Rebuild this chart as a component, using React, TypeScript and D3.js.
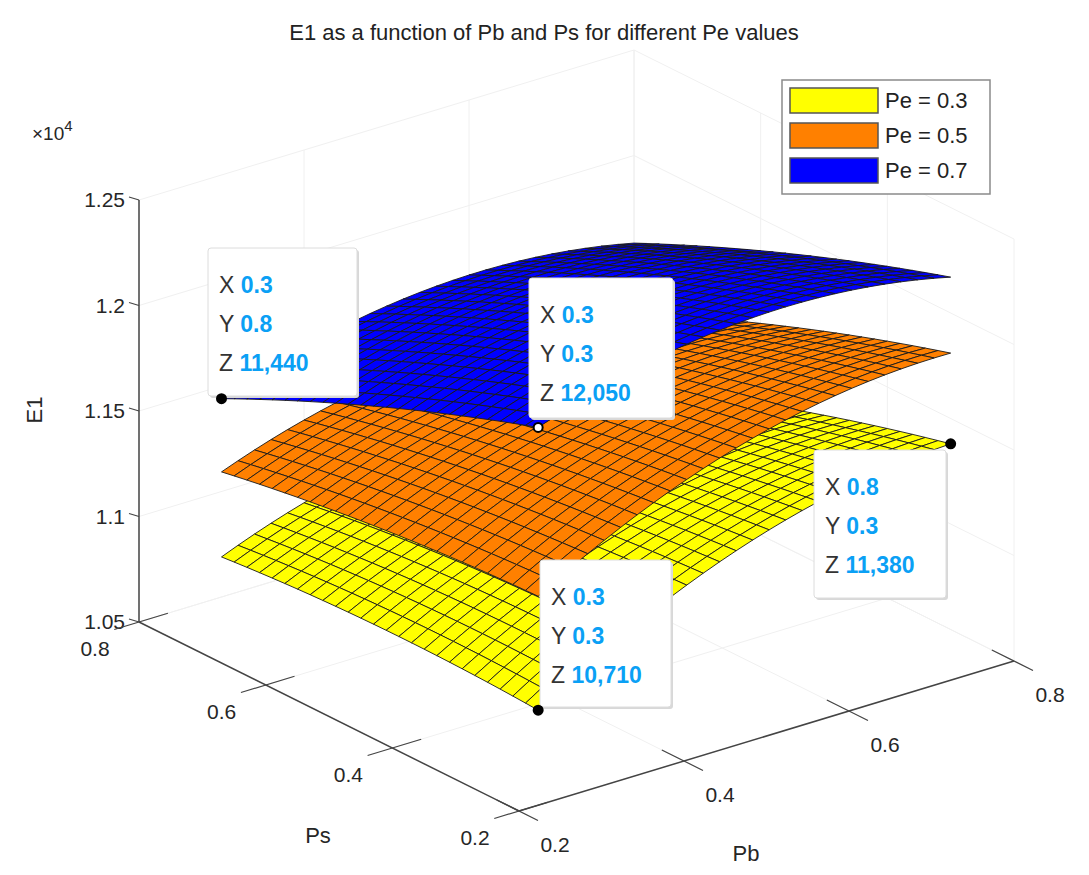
import React from "react";
import * as d3 from "d3";

const knots = [0.3, 0.55, 0.8];
// rows: Ps = 0.3, 0.55, 0.8 ; cols: Pb = 0.3, 0.55, 0.8
const yellowGrid = [
  [10710, 11195, 11380],
  [10730, 11100, 11170],
  [10690, 10945, 10900],
];
const orangeGrid = [
  [11250, 11680, 11810],
  [11200, 11530, 11560],
  [11093, 11321, 11250],
];
const blueGrid = [
  [12050, 12260, 12170],
  [11775, 11991, 11907],
  [11440, 11662, 11585],
];
const surfaces = [
  { label: "Pe = 0.3", grid: yellowGrid, color: "#ffff00" },
  { label: "Pe = 0.5", grid: orangeGrid, color: "#ff8000" },
  { label: "Pe = 0.7", grid: blueGrid, color: "#0000ff" },
];
const pbTicks = [0.2, 0.4, 0.6, 0.8];
const psTicks = [0.2, 0.4, 0.6, 0.8];
const zTicks = [10500, 11000, 11500, 12000, 12500];
const zTickLabels = ["1.05", "1.1", "1.15", "1.2", "1.25"];
const tips = [
  { x: 0.3, y: 0.8, z: 11440, box: [208, 248, 149, 148], hollow: false },
  { x: 0.3, y: 0.3, z: 12050, box: [529, 278, 144, 140], hollow: true },
  { x: 0.8, y: 0.3, z: 11380, box: [814, 450, 132, 148], hollow: false },
  { x: 0.3, y: 0.3, z: 10710, box: [540, 560, 131, 147], hollow: false },
];

const N = 25;

const sPbX = d3.scaleLinear().domain([0.2, 0.8]).range([0, 495]);
const sPbY = d3.scaleLinear().domain([0.2, 0.8]).range([0, -150]);
const sPsX = d3.scaleLinear().domain([0.2, 0.8]).range([0, -380]);
const sPsY = d3.scaleLinear().domain([0.2, 0.8]).range([0, -189]);
const sZ = d3.scaleLinear().domain([10500, 12500]).range([0, -422]);
const OX = 519, OY = 811;
function proj(pb: number, ps: number, z: number): [number, number] {
  return [OX + sPbX(pb) + sPsX(ps), OY + sPbY(pb) + sPsY(ps) + sZ(z)];
}

function lag(t: number, k: number) {
  const [a, b, c] = knots;
  if (k === 0) return ((t - b) * (t - c)) / ((a - b) * (a - c));
  if (k === 1) return ((t - a) * (t - c)) / ((b - a) * (b - c));
  return ((t - a) * (t - b)) / ((c - a) * (c - b));
}
function evalGrid(g: number[][], pb: number, ps: number) {
  let s = 0;
  for (let i = 0; i < 3; i++) for (let j = 0; j < 3; j++) s += g[i][j] * lag(ps, i) * lag(pb, j);
  return s;
}

export default function App() {
  const pbVals = d3.range(N + 1).map((i) => 0.3 + (0.5 * i) / N);
  const psVals = pbVals;
  const line = d3.line();
  const quads: React.ReactNode[] = [];
  surfaces.forEach((s, si) => {
    const list: { d: number; pts: [number, number][] }[] = [];
    for (let i = 0; i < N; i++)
      for (let j = 0; j < N; j++) {
        const c = [
          [pbVals[j], psVals[i]],
          [pbVals[j + 1], psVals[i]],
          [pbVals[j + 1], psVals[i + 1]],
          [pbVals[j], psVals[i + 1]],
        ];
        const pts = c.map(([a, b]) => proj(a, b, evalGrid(s.grid, a, b)));
        list.push({ d: pbVals[j] * 0.6 + psVals[i] * 0.8, pts });
      }
    list.sort((a, b) => b.d - a.d);
    list.forEach((q, k) =>
      quads.push(
        <path key={`${si}-${k}`} d={line(q.pts)! + "Z"} fill={s.color} stroke="#1a1a1a" strokeWidth={0.9} strokeLinejoin="round" />
      )
    );
  });

  const grid = "#f0f0f0";
  const gl: React.ReactNode[] = [];
  pbTicks.forEach((t, i) => {
    const a = proj(t, 0.8, 10500), b = proj(t, 0.8, 12500), c = proj(t, 0.2, 10500);
    gl.push(<line key={"pw" + i} x1={a[0]} y1={a[1]} x2={b[0]} y2={b[1]} stroke={grid} />);
    gl.push(<line key={"pf" + i} x1={a[0]} y1={a[1]} x2={c[0]} y2={c[1]} stroke={grid} />);
  });
  psTicks.forEach((t, i) => {
    const a = proj(0.8, t, 10500), b = proj(0.8, t, 12500), c = proj(0.2, t, 10500);
    gl.push(<line key={"sw" + i} x1={a[0]} y1={a[1]} x2={b[0]} y2={b[1]} stroke={grid} />);
    gl.push(<line key={"sf" + i} x1={a[0]} y1={a[1]} x2={c[0]} y2={c[1]} stroke={grid} />);
  });
  zTicks.forEach((z, i) => {
    const a = proj(0.2, 0.8, z), b = proj(0.8, 0.8, z), c = proj(0.8, 0.2, z);
    gl.push(<polyline key={"zw" + i} points={`${a} ${b} ${c}`} fill="none" stroke={grid} />);
  });

  const ax = "#444";
  const zb = proj(0.2, 0.8, 10500), zt = proj(0.2, 0.8, 12500);
  const p0 = proj(0.2, 0.2, 10500), p8 = proj(0.8, 0.2, 10500);
  const font = "'Liberation Sans', Arial, sans-serif";

  return (
    <svg width={1089} height={875} style={{ display: "block", position: "absolute", left: 0, top: 0, background: "#fff" }} fontFamily={font}>
      <rect width={1089} height={875} fill="#fff" />
      <text x={544} y={40} textAnchor="middle" fontSize={22} fill="#222">
        E1 as a function of Pb and Ps for different Pe values
      </text>
      {gl}
      <line x1={zb[0]} y1={zb[1]} x2={zt[0]} y2={zt[1]} stroke={ax} strokeWidth={1.5} />
      {zTicks.map((z, i) => {
        const p = proj(0.2, 0.8, z);
        return (
          <g key={"zt" + i}>
            <line x1={p[0] - 10} y1={p[1] - 3} x2={p[0]} y2={p[1]} stroke={ax} strokeWidth={1.2} />
            <text x={p[0] - 14} y={p[1] + 7} textAnchor="end" fontSize={21} fill="#262626">{zTickLabels[i]}</text>
          </g>
        );
      })}
      <text x={32} y={140} fontSize={19} fill="#262626">×10<tspan dy={-9} fontSize={15}>4</tspan></text>
      <text transform="translate(42,410) rotate(-90)" textAnchor="middle" fontSize={22} fill="#262626">E1</text>
      <line x1={zb[0]} y1={zb[1]} x2={p0[0]} y2={p0[1]} stroke={ax} strokeWidth={1.5} />
      <line x1={p0[0]} y1={p0[1]} x2={p8[0]} y2={p8[1]} stroke={ax} strokeWidth={1.5} />
      {psTicks.map((t, i) => {
        const a = proj(0.2, t, 10500), b = proj(0.235, t, 10500), c = proj(0.17, t, 10500);
        return (
          <g key={"pst" + i}>
            <line x1={c[0]} y1={c[1]} x2={b[0]} y2={b[1]} stroke={ax} strokeWidth={1.2} />
            <text x={a[0] - 44} y={a[1] + 34} textAnchor="middle" fontSize={21} fill="#262626">{t.toFixed(1)}</text>
          </g>
        );
      })}
      {pbTicks.map((t, i) => {
        const a = proj(t, 0.2, 10500), b = proj(t, 0.235, 10500), c = proj(t, 0.17, 10500);
        return (
          <g key={"pbt" + i}>
            <line x1={c[0]} y1={c[1]} x2={b[0]} y2={b[1]} stroke={ax} strokeWidth={1.2} />
            <text x={a[0] + 36} y={a[1] + 41} textAnchor="middle" fontSize={21} fill="#262626">{t.toFixed(1)}</text>
          </g>
        );
      })}
      <text x={318} y={843} textAnchor="middle" fontSize={22} fill="#262626">Ps</text>
      <text x={746} y={861} textAnchor="middle" fontSize={22} fill="#262626">Pb</text>
      {quads}
      {tips.map((t, i) => {
        const p = proj(t.x, t.y, t.z);
        const [bx, by, bw, bh] = t.box;
        const rows = [["X", String(t.x)], ["Y", String(t.y)], ["Z", d3.format(",")(t.z)]];
        return (
          <g key={"tip" + i}>
            <rect x={bx + 2} y={by + 2} width={bw} height={bh} rx={3} fill="#d8d8d8" />
            <rect x={bx} y={by} width={bw} height={bh} rx={3} fill="#fff" stroke="#dcdcdc" />
            {rows.map((r, k) => (
              <text key={k} x={bx + 11} y={by + 45 + k * 39} fontSize={23}>
                <tspan fill="#333">{r[0]} </tspan>
                <tspan fill="#0aa0f5" fontWeight="bold">{r[1]}</tspan>
              </text>
            ))}
            <circle cx={p[0]} cy={p[1]} r={4.5} fill={t.hollow ? "#fff" : "#000"} stroke="#000" strokeWidth={2} />
          </g>
        );
      })}
      <rect x={782} y={80} width={208} height={114} fill="#fff" stroke="#8a8a8a" strokeWidth={1.5} />
      {surfaces.map((s, i) => (
        <g key={"lg" + i}>
          <rect x={790} y={88 + i * 35} width={88} height={25} fill={s.color} stroke="#555" strokeWidth={1.5} />
          <text x={885} y={108 + i * 35} fontSize={22} fill="#222">{s.label}</text>
        </g>
      ))}
    </svg>
  );
}
